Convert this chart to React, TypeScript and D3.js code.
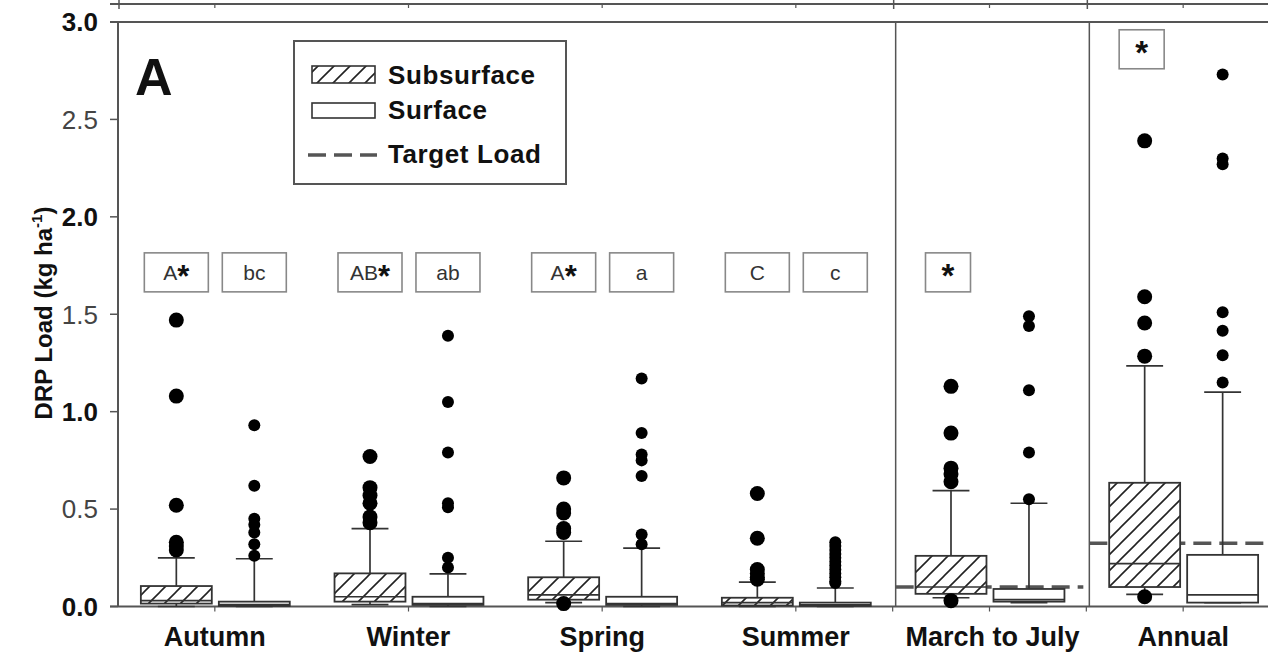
import React from "react";
import * as d3 from "d3";

const categories = ["Autumn", "Winter", "Spring", "Summer", "March to July", "Annual"];
const seriesNames = ["Subsurface", "Surface"];

// Subsurface box statistics
const subLow = [0.0, 0.01, 0.02, 0.0, 0.045, 0.062];
const subQ1 = [0.015, 0.025, 0.035, 0.005, 0.065, 0.1];
const subMedian = [0.03, 0.05, 0.06, 0.02, 0.1, 0.22];
const subQ3 = [0.105, 0.17, 0.15, 0.045, 0.26, 0.635];
const subHigh = [0.25, 0.4, 0.335, 0.125, 0.595, 1.235];
const subOutliers = [
  [1.47, 1.08, 0.52, 0.33, 0.31, 0.29],
  [0.77, 0.61, 0.57, 0.53, 0.46, 0.43],
  [0.66, 0.5, 0.48, 0.4, 0.38, 0.015],
  [0.58, 0.35, 0.19, 0.17, 0.15, 0.14],
  [1.13, 0.89, 0.71, 0.68, 0.64, 0.03],
  [2.39, 1.59, 1.455, 1.285, 0.05],
];

// Surface box statistics
const surLow = [0.0, 0.0, 0.0, 0.0, 0.02, 0.02];
const surQ1 = [0.003, 0.008, 0.008, 0.003, 0.025, 0.02];
const surMedian = [0.01, 0.015, 0.015, 0.008, 0.035, 0.06];
const surQ3 = [0.025, 0.05, 0.05, 0.02, 0.09, 0.265];
const surHigh = [0.245, 0.167, 0.3, 0.095, 0.53, 1.1];
const surOutliers = [
  [0.93, 0.62, 0.45, 0.42, 0.38, 0.32, 0.26],
  [1.39, 1.05, 0.79, 0.53, 0.51, 0.25, 0.2],
  [1.17, 0.89, 0.78, 0.75, 0.67, 0.37, 0.32],
  [0.33, 0.31, 0.29, 0.27, 0.25, 0.23, 0.21, 0.19, 0.17, 0.15, 0.13, 0.12],
  [1.49, 1.44, 1.11, 0.79, 0.55],
  [2.73, 2.3, 2.27, 1.51, 1.415, 1.29, 1.15],
];

const targetLoads: (number | null)[] = [null, null, null, null, 0.1, 0.325];
const subLetters = ["A", "AB", "A", "C", "", ""];
const subStars = [true, true, true, false, true, true];
const surLetters = ["bc", "ab", "a", "c", "", ""];
const yTicks = [0, 0.5, 1.0, 1.5, 2.0, 2.5, 3.0];

const FONT = "'Liberation Sans', Arial, Helvetica, sans-serif";
const W = 1268;
const H = 654;

export default function App() {
  const x = d3.scaleBand<string>().domain(categories).range([118, 1280]).padding(0);
  const step = x.bandwidth();
  const inner = d3
    .scaleBand<string>()
    .domain(seriesNames)
    .range([step * 0.118, step * 0.887])
    .paddingInner(0.09);
  const bw = inner.bandwidth();
  const y = d3.scaleLinear().domain([0, 3]).range([606.5, 22]);

  const axisColor = "#555";
  const boxColor = "#333";

  const stats = [
    { low: subLow, q1: subQ1, med: subMedian, q3: subQ3, high: subHigh, out: subOutliers, r: 7.5, fill: "url(#hatch)" },
    { low: surLow, q1: surQ1, med: surMedian, q3: surQ3, high: surHigh, out: surOutliers, r: 6, fill: "#fff" },
  ];

  const dividers = [categories[4], categories[5]].map((c) => (x(c) as number) + 3);

  return (
    <svg
      width={W}
      height={H}
      viewBox={`0 0 ${W} ${H}`}
      style={{ position: "absolute", left: 0, top: 0, background: "#fff" }}
      fontFamily={FONT}
    >
      <defs>
        <pattern id="hatch" patternUnits="userSpaceOnUse" width={16} height={16}>
          <rect width={16} height={16} fill="#fff" />
          <path d="M-4,4 L4,-4 M0,16 L16,0 M12,20 L20,12" stroke="#222" strokeWidth={1.6} />
        </pattern>
      </defs>

      {/* upper panel's bottom axis */}
      <line x1={110} x2={W} y1={4} y2={4} stroke={axisColor} strokeWidth={2} />
      {categories.map((c) => (
        <line key={"tt" + c} x1={(x(c) as number) + step / 2} x2={(x(c) as number) + step / 2} y1={4} y2={8} stroke={axisColor} strokeWidth={1.2} />
      ))}
      {[118, x(categories[4]) as number, x(categories[5]) as number].map((v, i) => (
        <line key={"tb" + i} x1={v + 1} x2={v + 1} y1={0} y2={9} stroke={axisColor} strokeWidth={1.5} />
      ))}

      {/* frame */}
      <line x1={110} x2={W} y1={y(3)} y2={y(3)} stroke={axisColor} strokeWidth={2} />
      <line x1={110} x2={W} y1={y(0)} y2={y(0)} stroke={axisColor} strokeWidth={2} />
      <line x1={118} x2={118} y1={y(3)} y2={y(0)} stroke={axisColor} strokeWidth={2} />
      {dividers.map((d, i) => (
        <line key={"dv" + i} x1={d} x2={d} y1={y(3)} y2={y(0)} stroke={axisColor} strokeWidth={1.5} />
      ))}

      {/* y ticks */}
      {yTicks.map((t) => {
        const major = Math.abs(t - Math.round(t)) < 1e-9;
        return (
          <g key={"yt" + t}>
            <line x1={110} x2={118} y1={y(t)} y2={y(t)} stroke={axisColor} strokeWidth={1.5} />
            <text
              x={98}
              y={y(t)}
              dy="0.36em"
              textAnchor="end"
              fontSize={26}
              fontWeight={major ? "bold" : "normal"}
              fill={major ? "#111" : "#444"}
            >
              {t.toFixed(1)}
            </text>
          </g>
        );
      })}

      {/* x ticks and labels */}
      {categories.map((c) => {
        const cx = (x(c) as number) + step / 2;
        return (
          <g key={"xt" + c}>
            <line x1={cx} x2={cx} y1={y(0)} y2={y(0) + 5} stroke={axisColor} strokeWidth={1.2} />
            <text x={cx + (c === "March to July" ? 3 : 0)} y={646} textAnchor="middle" fontSize={27} fontWeight="bold" fill="#111">
              {c}
            </text>
          </g>
        );
      })}
      {[x(categories[4]) as number, x(categories[5]) as number].map((v, i) => (
        <line key={"xb" + i} x1={v} x2={v} y1={y(0)} y2={y(0) + 5} stroke={axisColor} strokeWidth={1.2} />
      ))}

      {/* y axis label */}
      <text
        transform={`translate(52,${313}) rotate(-90)`}
        textAnchor="middle"
        fontSize={24}
        fontWeight="bold"
        fill="#111"
      >
        DRP Load (kg ha
        <tspan fontSize={15} dy={-10}>-1</tspan>
        <tspan dy={10}>)</tspan>
      </text>

      {/* target loads */}
      {categories.map((c, i) => {
        const t = targetLoads[i];
        if (t == null) return null;
        const x0 = (x(c) as number) + 3;
        const x1 = Math.min((x(c) as number) + step, W + 20) - (i === 4 ? 3 : 0);
        return (
          <line key={"tg" + c} x1={x0} x2={x1} y1={y(t)} y2={y(t)} stroke="#555" strokeWidth={3.5} strokeDasharray="18,8" />
        );
      })}

      {/* boxes */}
      {categories.map((c, i) =>
        seriesNames.map((s, si) => {
          const st = stats[si];
          const bx = (x(c) as number) + (inner(s) as number);
          const mx = bx + bw / 2;
          const capW = bw * 0.52;
          return (
            <g key={"bx" + c + s}>
              <line x1={mx} x2={mx} y1={y(st.q3[i])} y2={y(st.high[i])} stroke={boxColor} strokeWidth={1.7} />
              <line x1={mx - capW / 2} x2={mx + capW / 2} y1={y(st.high[i])} y2={y(st.high[i])} stroke={boxColor} strokeWidth={1.7} />
              <line x1={mx} x2={mx} y1={y(st.q1[i])} y2={y(st.low[i])} stroke={boxColor} strokeWidth={1.7} />
              <line x1={mx - capW / 2} x2={mx + capW / 2} y1={y(st.low[i])} y2={y(st.low[i])} stroke={boxColor} strokeWidth={1.7} />
              <rect
                x={bx}
                y={y(st.q3[i])}
                width={bw}
                height={Math.max(1, y(st.q1[i]) - y(st.q3[i]))}
                fill={st.fill}
                stroke={boxColor}
                strokeWidth={1.8}
              />
              <line x1={bx} x2={bx + bw} y1={y(st.med[i])} y2={y(st.med[i])} stroke={boxColor} strokeWidth={1.7} />
              {st.out[i].map((v, k) => (
                <circle key={k} cx={mx} cy={y(v)} r={st.r} fill="#000" />
              ))}
            </g>
          );
        })
      )}

      {/* significance labels */}
      {categories.map((c, i) => {
        const out: JSX.Element[] = [];
        const subX = (x(c) as number) + (inner("Subsurface") as number) + bw / 2;
        const surX = (x(c) as number) + (inner("Surface") as number) + bw / 2;
        const cy = i === 5 ? y(2.86) : y(1.715);
        const sw = subLetters[i] ? 64 : 45;
        const subCx = subLetters[i] ? subX : subX - 3;
        out.push(
          <g key={"sl" + c}>
            <rect x={subCx - sw / 2} y={cy - 19.5} width={sw} height={39} fill="#fff" stroke="#888" strokeWidth={1.6} />
            <text x={subCx} y={cy} dy="0.36em" textAnchor="middle" fontSize={21} fill="#333">
              {subLetters[i]}
              {subStars[i] ? (
                <tspan fontSize={subLetters[i] ? 31 : 33} fontWeight="bold" fill="#111" dy={subLetters[i] ? 7 : 15}>
                  *
                </tspan>
              ) : null}
            </text>
          </g>
        );
        if (surLetters[i]) {
          out.push(
            <g key={"ul" + c}>
              <rect x={surX - 32} y={cy - 19.5} width={64} height={39} fill="#fff" stroke="#888" strokeWidth={1.6} />
              <text x={surX} y={cy} dy="0.36em" textAnchor="middle" fontSize={21} fill="#333">
                {surLetters[i]}
              </text>
            </g>
          );
        }
        return out;
      })}

      {/* panel label */}
      <text x={135} y={95} fontSize={52} fontWeight="bold" fill="#111">
        A
      </text>

      {/* legend */}
      <g>
        <rect x={294} y={41} width={272} height={143} fill="#fff" stroke="#555" strokeWidth={2} />
        <rect x={312} y={66} width={63} height={17} fill="url(#hatch)" stroke="#333" strokeWidth={1.6} />
        <rect x={312} y={103} width={63} height={15} fill="#fff" stroke="#333" strokeWidth={1.6} />
        <line x1={308} x2={377} y1={155} y2={155} stroke="#555" strokeWidth={3.5} strokeDasharray="18,8" />
        <text x={388} y={84} fontSize={26} fontWeight="bold" fill="#111" letterSpacing={0.6}>Subsurface</text>
        <text x={388} y={119} fontSize={26} fontWeight="bold" fill="#111" letterSpacing={0.6}>Surface</text>
        <text x={388} y={163} fontSize={26} fontWeight="bold" fill="#111" letterSpacing={0.6}>Target Load</text>
      </g>
    </svg>
  );
}
